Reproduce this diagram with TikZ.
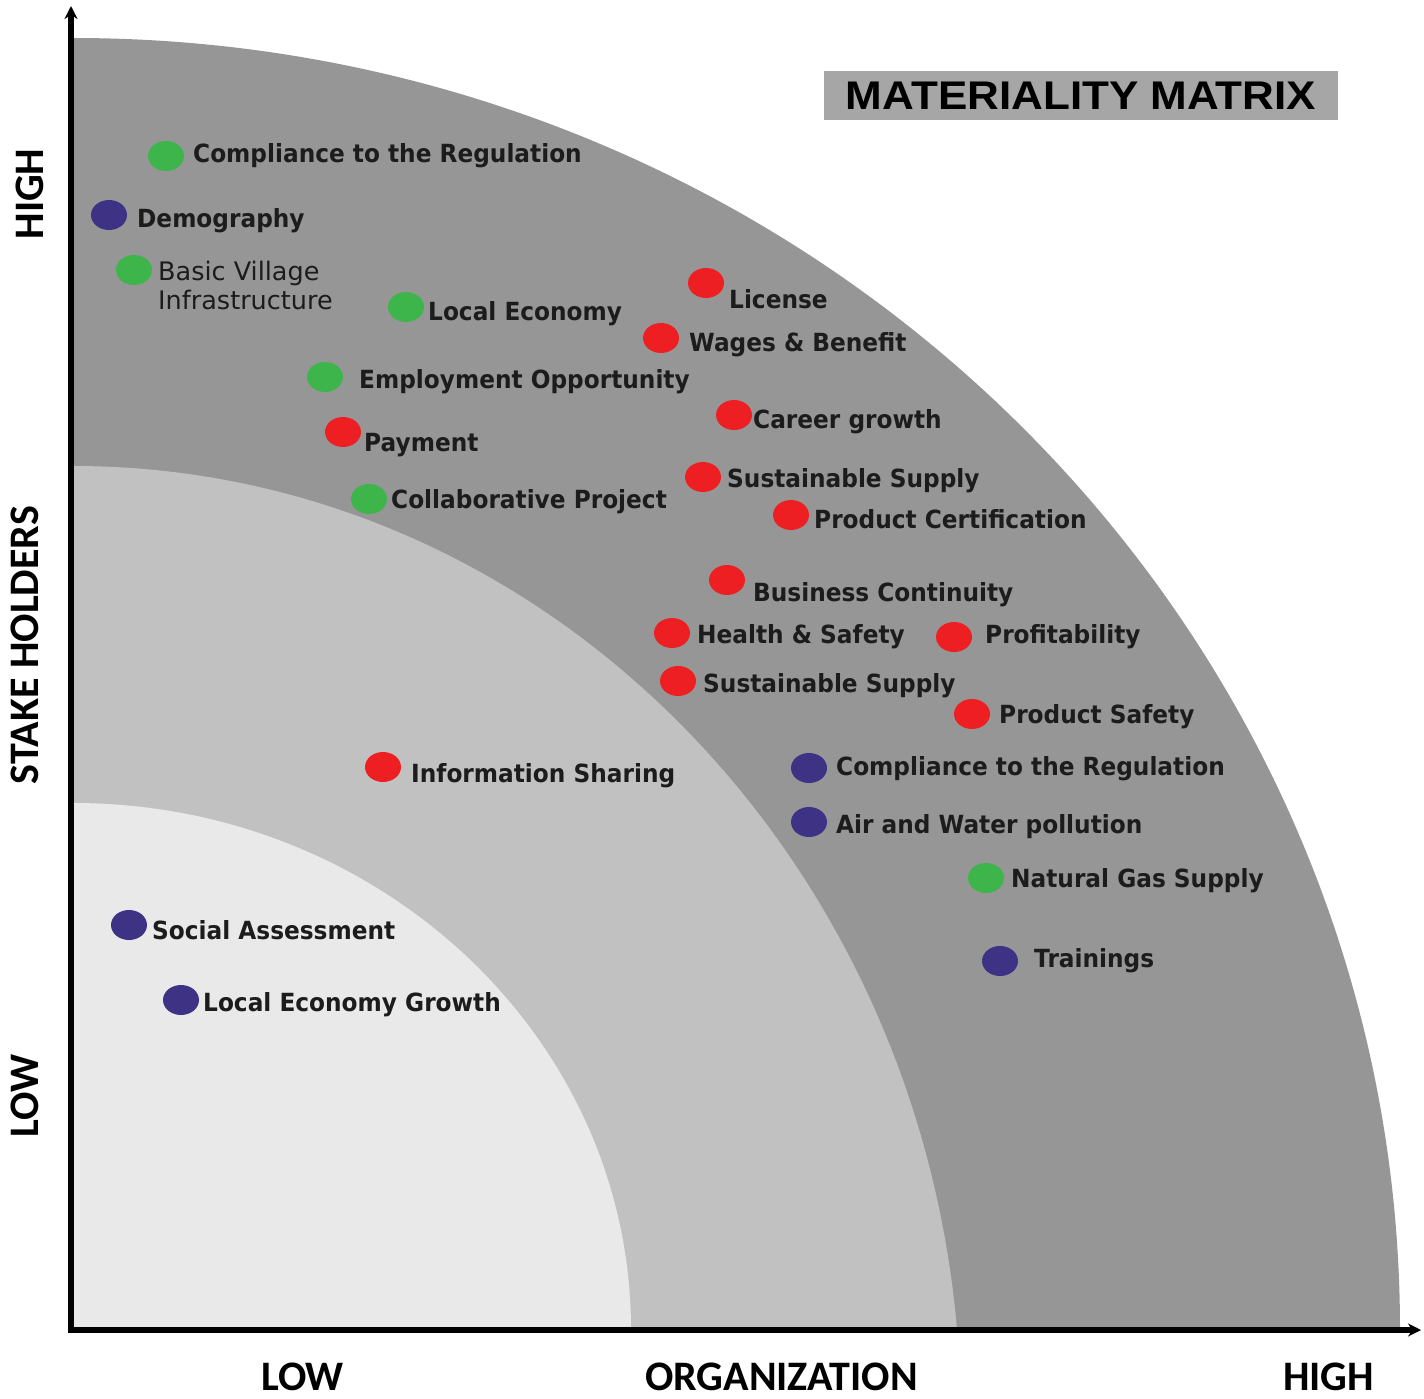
\documentclass[tikz,border=0pt]{standalone}
\usepackage{fontspec}
\usetikzlibrary{arrows.meta,shapes.geometric}
\newfontfamily\labfont[FakeStretch=0.93]{DejaVu Sans}
\newfontfamily\labregfont{DejaVu Sans}
\newfontfamily\axfont{Carlito}
\newfontfamily\ttlfont{Liberation Sans}
\definecolor{outergray}{HTML}{969696}
\definecolor{midgray}{HTML}{C1C1C1}
\definecolor{innergray}{HTML}{E9E9E9}
\definecolor{titlegray}{HTML}{A6A6A6}
\definecolor{labcol}{HTML}{1C1C1C}
\definecolor{dotgreen}{HTML}{3DB54A}
\definecolor{dotred}{HTML}{EE1F22}
\definecolor{dotpurple}{HTML}{3D3283}
\begin{document}
\begin{tikzpicture}[x=1pt,y=-1pt,
  dotbase/.style={ellipse,minimum width=36pt,minimum height=30pt,inner sep=0pt,draw=none},
  gdot/.style={dotbase,fill=dotgreen},
  rdot/.style={dotbase,fill=dotred},
  pdot/.style={dotbase,fill=dotpurple},
  lbl/.style={anchor=base west,inner sep=0pt,text=labcol,font=\labfont\bfseries\fontsize{25pt}{30pt}\selectfont},
  lblreg/.style={anchor=base west,inner sep=0pt,text=labcol,align=left,font=\labregfont\fontsize{25.5pt}{29pt}\selectfont},
  axlbl/.style={inner sep=0pt,anchor=base,text=black,font=\axfont\bfseries\fontsize{42pt}{50pt}\selectfont},
  axisline/.style={line width=5.5pt,black,line join=miter}]
\useasboundingbox (0,0) rectangle (1424,1399);
\fill[white] (0,0) rectangle (1424,1399);
% bands
\begin{scope}
  \clip (73,0) rectangle (1424,1330);
  \fill[outergray] (73,1330) ellipse[x radius=1327pt,y radius=1292pt];
  \fill[midgray] (73,1420) ellipse[x radius=888pt,y radius=954pt];
  \fill[innergray] (73,1330) ellipse[x radius=558pt,y radius=527pt];
\end{scope}
% axes
\coordinate (ytop) at (71,6);
\coordinate (O) at (71,1330);
\coordinate (xend) at (1421,1330);
\draw[axisline,{Stealth[length=13pt,width=13pt]}-{Stealth[length=13pt,width=13pt]}] (ytop) -- (O) -- (xend);
% title
\node[fill=titlegray,minimum width=514pt,minimum height=49pt,inner sep=0pt] (title) at (1081,95.5)
  {\scalebox{1.1}[1]{\ttlfont\bfseries\fontsize{40pt}{46pt}\selectfont MATERIALITY MATRIX}};
% axis labels
\node[axlbl] (xlow) at (302.5,1390) {LOW};
\node[axlbl] (xmid) at (781.5,1390) {ORGANIZATION};
\node[axlbl] (xhigh) at (1328.5,1390) {HIGH};
\node[axlbl,rotate=90] (yhigh) at (43,194) {HIGH};
\node[axlbl,rotate=90] (ymid) at (38,645) {STAKE HOLDERS};
\node[axlbl,rotate=90] (ylow) at (38,1096) {LOW};
% items
\node[gdot] (d1) at (166,156) {};  \node[lbl] (t1) at (193,163) {Compliance to the Regulation};
\node[pdot] (d2) at (109,215) {};  \node[lbl] (t2) at (137,227) {Demography};
\node[gdot] (d3) at (134,270) {};  \node[lblreg] (t3) at (158,309) {Basic Village\\Infrastructure};
\node[gdot] (d4) at (406,307) {};  \node[lbl] (t4) at (428,320) {Local Economy};
\node[rdot] (d5) at (706,283) {};  \node[lbl] (t5) at (729,308) {License};
\node[rdot] (d6) at (661,338) {};  \node[lbl] (t6) at (689,351) {Wages \& Benefit};
\node[gdot] (d7) at (325,377) {};  \node[lbl] (t7) at (359,388) {Employment Opportunity};
\node[rdot] (d8) at (734,415) {};  \node[lbl] (t8) at (753,428) {Career growth};
\node[rdot] (d9) at (343,432) {};  \node[lbl] (t9) at (364,451) {Payment};
\node[rdot] (d10) at (703,477) {}; \node[lbl] (t10) at (727,487) {Sustainable Supply};
\node[gdot] (d11) at (369,499) {}; \node[lbl] (t11) at (391,508) {Collaborative Project};
\node[rdot] (d12) at (791,515) {}; \node[lbl] (t12) at (814,528) {Product Certification};
\node[rdot] (d13) at (727,580) {}; \node[lbl] (t13) at (753,601) {Business Continuity};
\node[rdot] (d14) at (672,633) {}; \node[lbl] (t14) at (697,643) {Health \& Safety};
\node[rdot] (d15) at (954,637) {}; \node[lbl] (t15) at (985,643) {Profitability};
\node[rdot] (d16) at (678,681) {}; \node[lbl] (t16) at (703,692) {Sustainable Supply};
\node[rdot] (d17) at (972,714) {}; \node[lbl] (t17) at (999,723) {Product Safety};
\node[pdot] (d18) at (809,768) {}; \node[lbl] (t18) at (836,775) {Compliance to the Regulation};
\node[pdot] (d19) at (809,822) {}; \node[lbl] (t19) at (836,833) {Air and Water pollution};
\node[gdot] (d20) at (986,878) {}; \node[lbl] (t20) at (1011,887) {Natural Gas Supply};
\node[pdot] (d21) at (1000,961) {}; \node[lbl] (t21) at (1034,967) {Trainings};
\node[rdot] (d22) at (383,767) {}; \node[lbl] (t22) at (411,782) {Information Sharing};
\node[pdot] (d23) at (129,925) {}; \node[lbl] (t23) at (152,939) {Social Assessment};
\node[pdot] (d24) at (181,1000) {}; \node[lbl] (t24) at (203,1011) {Local Economy Growth};
\end{tikzpicture}
\end{document}
